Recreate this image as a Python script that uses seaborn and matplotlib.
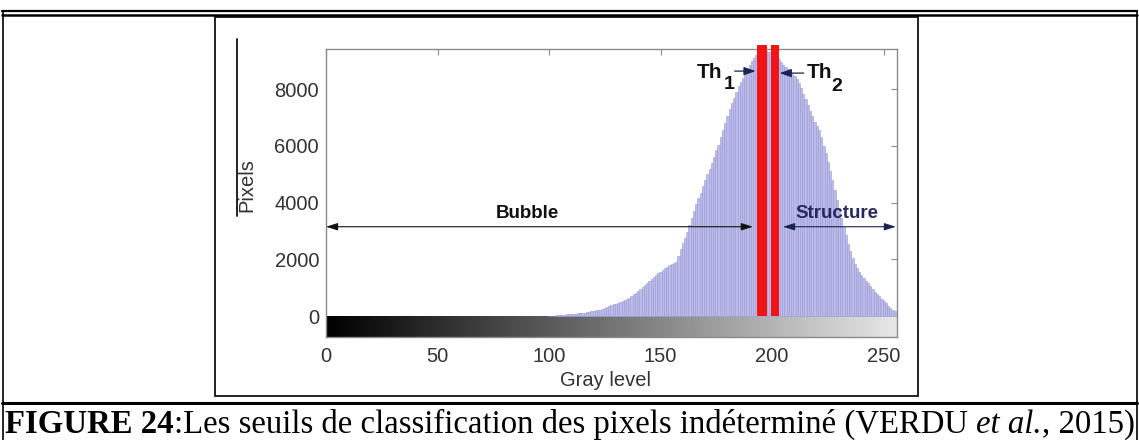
import numpy as np
import matplotlib
matplotlib.use("Agg")
import matplotlib.pyplot as plt
from matplotlib.lines import Line2D
from matplotlib.patches import Rectangle
import seaborn as sns

# Histogram of gray levels (levels below 100 hold no pixels)
gray_levels = list(range(100, 256))
pixel_counts = [
    10, 12, 15, 20, 25, 35, 40, 48, 55, 62,                    # 100-109
    70, 78, 85, 92, 100, 110, 120, 135, 150, 165,              # 110-119
    180, 195, 210, 225, 260, 290, 320, 350, 380, 410,          # 120-129
    435, 460, 490, 530, 570, 610, 650, 700, 760, 820,          # 130-139
    890, 960, 1030, 1100, 1170, 1240, 1310, 1380, 1450, 1510,  # 140-149
    1560, 1620, 1680, 1730, 1790, 1850, 1880, 1920, 2100, 2350,  # 150-159
    2570, 2750, 2950, 3200, 3450, 3700, 3950, 4150, 4350, 4600,  # 160-169
    4800, 5000, 5200, 5400, 5600, 5850, 6050, 6300, 6550, 6800,  # 170-179
    7050, 7300, 7500, 7700, 7900, 8100, 8250, 8400, 8550, 8700,  # 180-189
    8850, 9000, 9100, 9200, 9280, 9330, 9350, 9340, 9320, 9300,  # 190-199
    9260, 9200, 9130, 9050, 8950, 8870, 8800, 8720, 8650, 8550,  # 200-209
    8450, 8350, 8230, 8050, 7850, 7650, 7450, 7250, 7050, 6850,  # 210-219
    6700, 6550, 6300, 6000, 5750, 5450, 5100, 4800, 4450, 4100,  # 220-229
    3800, 3450, 3150, 2850, 2550, 2300, 2050, 1850, 1700, 1550,  # 230-239
    1450, 1350, 1250, 1150, 1050, 950, 860, 770, 690, 610,       # 240-249
    530, 450, 370, 300, 230, 160,                                # 250-255
]

# Classification thresholds Th1 / Th2
thresholds = [195.5, 201.5]
threshold_widths = [4.4, 3.6]
threshold_names = ["1", "2"]

# Pixel classes separated by the thresholds
class_names = ["Bubble", "Structure"]
class_ranges = [(0, 191.4), (204.9, 255.5)]
class_arrow_y = 3150

x_ticks = [0, 50, 100, 150, 200, 250]
y_ticks = [0, 2000, 4000, 6000, 8000]

caption_parts = [
    ("FIGURE 24", "bold", "normal"),
    (":Les seuils de classification des pixels indéterminé (VERDU", "normal", "normal"),
    ("et al.", "normal", "italic"),
    (", 2015)", "normal", "normal"),
]

sns.set_style("white")
plt.rcParams["font.family"] = ["Liberation Sans", "DejaVu Sans"]

W, H = 1139, 440
fig = plt.figure(figsize=(W / 100, H / 100), dpi=100)
fig.patch.set_facecolor("white")


def fx(px):
    return px / W


def fy(py):
    return 1 - py / H


ax = fig.add_axes([fx(326), fy(337), fx(897) - fx(326), fy(49) - fy(337)])

# Histogram bars
sns.histplot(x=gray_levels, weights=pixel_counts, discrete=True, ax=ax,
             color="#bcbcea", edgecolor="#9a9ad8", linewidth=0.4, alpha=1.0,
             zorder=2)

# Threshold bars
for pos, wd in zip(thresholds, threshold_widths):
    ax.bar(pos, 9560, width=wd, bottom=0, color="#f21414", edgecolor="none",
           zorder=3, clip_on=False)

# Gray-scale ramp under the zero line
ramp = np.linspace(0, 255, 256)[None, :]
ax.imshow(ramp, extent=(0, 256, -740, 0), cmap="gray", vmin=0, vmax=282,
          aspect="auto", zorder=1, interpolation="bilinear")

ax.set_xlim(0, 256)
ax.set_ylim(-740, 9420)
ax.set_xticks(x_ticks)
ax.set_yticks(y_ticks)

for sp in ax.spines.values():
    sp.set_color("#8a8a8a")
    sp.set_linewidth(1.0)
    sp.set_visible(True)

ax.tick_params(direction="in", length=4, width=0.8, color="#8a8a8a",
               top=True, right=True, labelsize=14.5, labelcolor="#333333",
               pad=5)
ax.tick_params(axis="x", pad=7)

ax.set_xlabel("Gray level", fontsize=14.5, color="#333333", va="center")
ax.xaxis.set_label_coords((606 - 326) / 571, (337 - 381) / 288)
ax.set_ylabel("Pixels", fontsize=14.5, color="#333333", va="center")
ax.yaxis.set_label_coords((247 - 326) / 571, (337 - 185) / 288)

# Class range arrows and labels
arrow_colors = ["#111111", "#1c2350"]
text_colors = ["#111111", "#26295e"]
text_x = [90.1, 229.0]
for name, (x0, x1), ac, tc, tx in zip(class_names, class_ranges, arrow_colors,
                                       text_colors, text_x):
    ax.annotate("", xy=(x0, class_arrow_y), xytext=(x1, class_arrow_y),
                arrowprops=dict(arrowstyle="<|-|>,head_length=0.7,head_width=0.22",
                                color=ac, lw=0.8, shrinkA=0, shrinkB=0),
                zorder=5, annotation_clip=False)
    ax.text(tx, class_arrow_y + 450, name, ha="center", va="center",
            fontsize=13.5, fontweight="bold", color=tc, zorder=6)

# Threshold labels with arrows
ax.text(177.8, 8600, "Th", ha="right", va="center", fontsize=15,
        fontweight="bold", color="#111111", zorder=6)
ax.text(178.3, 8180, threshold_names[0], ha="left", va="center", fontsize=14,
        fontweight="bold", color="#111111", zorder=6)
ax.annotate("", xy=(192.6, 8640), xytext=(183.2, 8640),
            arrowprops=dict(arrowstyle="-|>,head_length=0.7,head_width=0.25",
                            color="#1c2350", lw=0.9, shrinkA=0, shrinkB=0),
            zorder=6)
ax.text(215.6, 8580, "Th", ha="left", va="center", fontsize=15,
        fontweight="bold", color="#111111", zorder=6)
ax.text(226.4, 8100, threshold_names[1], ha="left", va="center", fontsize=14,
        fontweight="bold", color="#111111", zorder=6)
ax.annotate("", xy=(203.4, 8570), xytext=(214.2, 8570),
            arrowprops=dict(arrowstyle="-|>,head_length=0.7,head_width=0.25",
                            color="#1c2350", lw=0.9, shrinkA=0, shrinkB=0),
            zorder=6)

# Figure frame and table rules
fig.add_artist(Rectangle((fx(215), fy(396)), fx(918) - fx(215), fy(17) - fy(396),
                         transform=fig.transFigure, fill=False, ec="#111111",
                         lw=1.3))
fig.add_artist(Line2D([fx(237), fx(237)], [fy(39), fy(216)],
                      transform=fig.transFigure, color="#222222", lw=1.4))
for yy, lw in [(11, 1.6), (15, 1.8), (403, 2.2)]:
    fig.add_artist(Line2D([fx(2), fx(1137)], [fy(yy), fy(yy)],
                          transform=fig.transFigure, color="black", lw=lw))
for xx in (2.5, 1136.5):
    fig.add_artist(Line2D([fx(xx), fx(xx)], [fy(11), fy(440)],
                          transform=fig.transFigure, color="black", lw=1.2))

# Caption, fitted to the table width
fig.canvas.draw()
renderer = fig.canvas.get_renderer()
serif = ["Liberation Serif", "DejaVu Serif"]


def measure(s, size, weight="normal", style="normal"):
    t = fig.text(0, 0, s, fontsize=size, family=serif, fontweight=weight,
                 fontstyle=style)
    w = t.get_window_extent(renderer).width
    t.remove()
    return w


base = 24.0
space_w = measure("x x", base) - measure("xx", base)
total = sum(measure(s, base, wt, st) for s, wt, st in caption_parts) + space_w
size = base * (1129 / total)
space_w = measure("x x", size) - measure("xx", size)

x_px = 5.0
for i, (s, wt, st) in enumerate(caption_parts):
    t = fig.text(fx(x_px), fy(433), s, fontsize=size, family=serif,
                 fontweight=wt, fontstyle=st, ha="left", va="baseline",
                 color="black")
    x_px += t.get_window_extent(renderer).width
    if i == 1:
        x_px += space_w

fig.savefig("out.png", dpi=100, facecolor="white")
